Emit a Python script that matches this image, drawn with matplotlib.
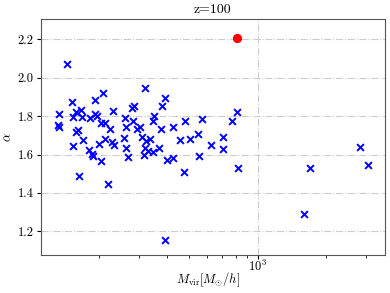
import matplotlib
matplotlib.use("Agg")
import matplotlib.pyplot as plt

# halo mass and slope alpha at z=100
mvir = [132.7, 132.2, 133.1, 143.9, 152.4, 158.7, 167.3, 153.0, 169.0, 158.2,
        161.4, 153.0, 169.3, 180.5, 186.1, 188.0, 203.3, 163.6, 218.3, 199.3,
        213.0, 228.0, 232.6, 191.8, 208.7, 182.4, 192.8, 195.8, 203.3, 213.0,
        224.0, 231.4, 258.3, 262.0, 268.8, 260.2, 264.2, 278.4, 284.1, 282.1,
        295.3, 302.0, 320.3, 308.2, 320.9, 334.6, 318.7, 317.0, 327.5, 347.3,
        368.3, 400.4, 425.5, 350.1, 347.3, 377.5, 391.1, 374.8, 424.2, 455.3,
        475.7, 480.6, 503.0, 548.4, 568.2, 551.2, 622.6, 707.0, 705.5, 768.0,
        814.7, 816.3, 390.3, 1594.7, 1700.3, 2832.7, 3053.3]
alpha = [1.809, 1.755, 1.746, 2.073, 1.873, 1.823, 1.833, 1.794, 1.795, 1.717,
         1.728, 1.647, 1.678, 1.623, 1.603, 1.590, 1.568, 1.486, 1.445, 1.657,
         1.680, 1.665, 1.649, 1.884, 1.919, 1.788, 1.812, 1.803, 1.764, 1.764,
         1.735, 1.828, 1.688, 1.632, 1.588, 1.792, 1.743, 1.845, 1.853, 1.777,
         1.731, 1.741, 1.949, 1.689, 1.670, 1.681, 1.635, 1.596, 1.621, 1.613,
         1.635, 1.572, 1.583, 1.803, 1.777, 1.855, 1.897, 1.734, 1.742, 1.674,
         1.508, 1.774, 1.682, 1.707, 1.785, 1.590, 1.649, 1.689, 1.628, 1.777,
         1.823, 1.531, 1.155, 1.290, 1.531, 1.641, 1.544]

# highlighted halo
mvir_sel = [808.0]
alpha_sel = [2.205]

plt.rcParams['font.family'] = 'serif'
plt.rcParams['font.serif'] = ['cmr10', 'DejaVu Serif']
plt.rcParams['mathtext.fontset'] = 'cm'
plt.rcParams['axes.formatter.use_mathtext'] = True
plt.rcParams['font.size'] = 9

fig = plt.figure(figsize=(3.9, 2.93), dpi=100)
ax = fig.add_axes([0.104, 0.13, 0.883, 0.805])

ax.grid(True, linestyle='-.', color='#cccccc', linewidth=0.8, zorder=0)
ax.scatter(mvir, alpha, marker='x', color='blue', s=24, linewidths=1.4, zorder=3)
ax.scatter(mvir_sel, alpha_sel, marker='o', color='red', s=32, zorder=4)

ax.set_xscale('log')
ax.set_xlim(110.6, 3640)
ax.set_ylim(1.077, 2.306)
ax.set_yticks([1.2, 1.4, 1.6, 1.8, 2.0, 2.2])
ax.set_yticklabels(['1.2', '1.4', '1.6', '1.8', '2.0', '2.2'])
ax.tick_params(axis='x', which='both', pad=0)
ax.tick_params(axis='x', which='major', length=3)
ax.tick_params(axis='x', which='minor', length=2)
ax.tick_params(axis='y', length=3, pad=2)

ax.set_title('z=100', fontsize=10, pad=4)
ax.set_xlabel(r'$M_{\rm vir} [M_{\odot}/h]$', fontsize=9)
ax.set_ylabel(r'$\alpha$', fontsize=9)
ax.xaxis.set_label_coords(0.487, -0.068)
ax.yaxis.set_label_coords(-0.075, 0.5)

for s in ax.spines.values():
    s.set_color('#555555')

fig.savefig('out.png', dpi=100)
